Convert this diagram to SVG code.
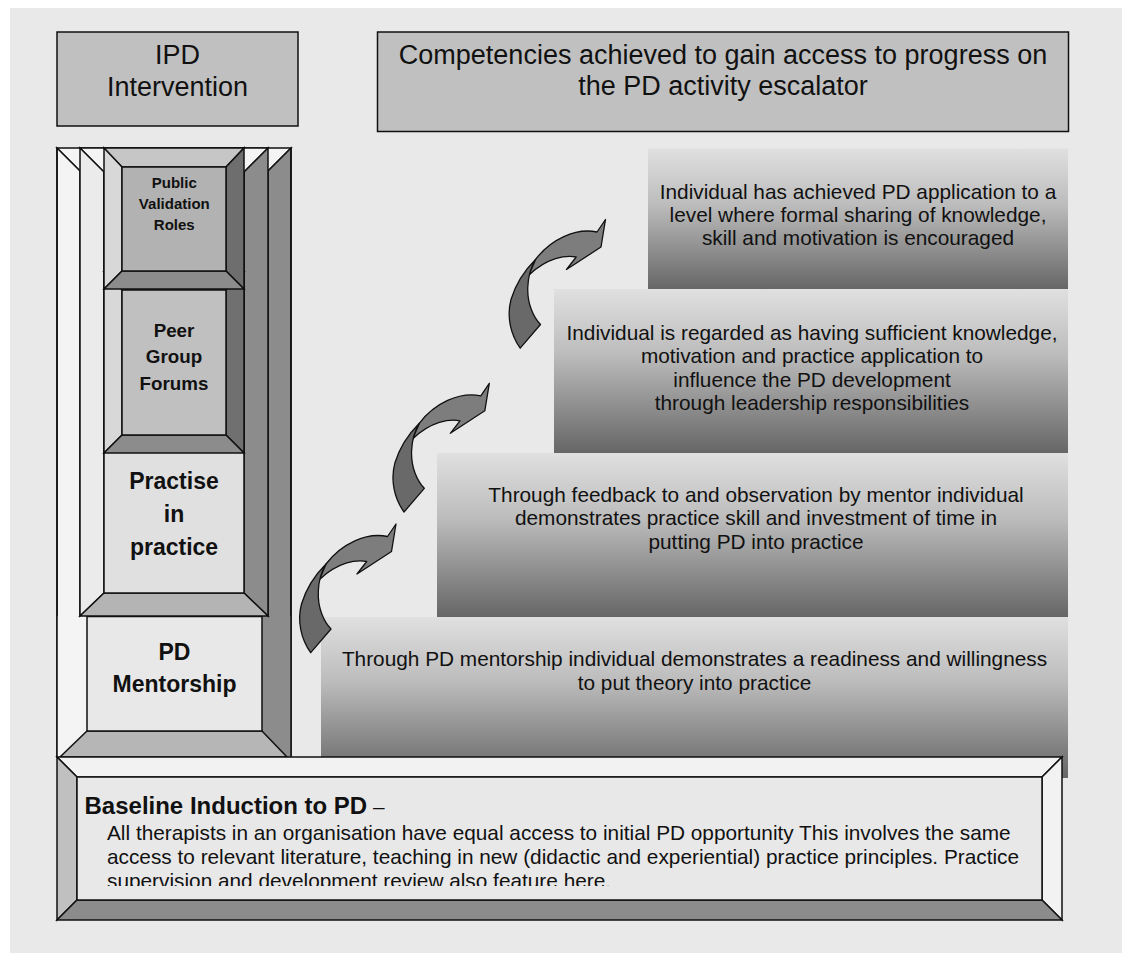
<svg xmlns="http://www.w3.org/2000/svg" xmlns:xlink="http://www.w3.org/1999/xlink" width="1132" height="960" viewBox="0 0 1132 960">
  <style>
    text { font-family: "Liberation Sans", Arial, sans-serif; fill: #111; }
    .hdr { font-size: 27px; text-anchor: middle; }
    .step { font-size: 20.8px; text-anchor: middle; }
    .lbl { font-weight: bold; text-anchor: middle; }
    .edge { stroke: #111; stroke-width: 1.5; stroke-linejoin: miter; }
    .nos { stroke: none; }
    .arrow-head { fill: #7d7d7d; stroke: #111; stroke-width: 1.3; stroke-linejoin: round; }
    .arrow-tail { fill: #696969; stroke: #111; stroke-width: 1.3; stroke-linejoin: round; }
  </style>
  <defs>
    <linearGradient id="stepFill" x1="0" y1="0" x2="0" y2="1">
      <stop offset="0" stop-color="#e0e0e0"/>
      <stop offset="0.4" stop-color="#bcbcbc"/>
      <stop offset="1" stop-color="#666666"/>
    </linearGradient>
    <clipPath id="baseClip">
      <rect x="77" y="777" width="965" height="109"/>
    </clipPath>
    <!-- curved block arrow, tip at the origin -->
    <g id="curvedArrow">
      <path class="arrow-head" d="M0,0 L-4.5,27.5 L-39,50 L-29.3,37.5 C-40,35.5 -58,38 -76.5,55.5 L-70,40 C-55,20 -30,8 -8.5,12.5 Z"/>
      <path class="arrow-tail" d="M-70,40 C-80,50 -90,65 -94.5,80 C-99,97 -95,115 -85.3,128.7 L-65,105 C-72,98 -78.5,84 -77.7,67.3 C-77.3,58 -75,48 -70,40 Z"/>
    </g>
  </defs>

  <!-- page panel -->
  <rect x="10" y="8" width="1112" height="945" fill="#e9e9e9"/>

  <!-- column heading -->
  <g id="ipd-header">
    <rect x="57" y="32" width="241" height="94" fill="#c0c0c0" class="edge"/>
    <text class="hdr" x="177.5" y="64">IPD</text>
    <text class="hdr" x="177.5" y="96">Intervention</text>
  </g>

  <!-- escalator heading -->
  <g id="competencies-header">
    <rect x="377.5" y="32" width="691" height="99.5" fill="#c0c0c0" class="edge"/>
    <text class="hdr" x="723" y="64">Competencies achieved to gain access to progress on</text>
    <text class="hdr" x="723" y="95">the PD activity escalator</text>
  </g>

  <!-- escalator steps -->
  <g id="step-4">
    <rect x="648" y="148.5" width="420" height="141" fill="url(#stepFill)"/>
    <text class="step" x="858" y="199">Individual has achieved PD application to a</text>
    <text class="step" x="858" y="222">level where formal sharing of knowledge,</text>
    <text class="step" x="858" y="245">skill and motivation is encouraged</text>
  </g>
  <g id="step-3">
    <rect x="554" y="289" width="514" height="164" fill="url(#stepFill)"/>
    <text class="step" x="812" y="340">Individual is regarded as having sufficient knowledge,</text>
    <text class="step" x="812" y="363.3">motivation and practice application to</text>
    <text class="step" x="812" y="386.7">influence the PD development</text>
    <text class="step" x="812" y="410">through leadership responsibilities</text>
  </g>
  <g id="step-2">
    <rect x="437" y="453" width="631" height="164" fill="url(#stepFill)"/>
    <text class="step" x="756" y="502">Through feedback to and observation by mentor individual</text>
    <text class="step" x="756" y="525.3">demonstrates practice skill and investment of time in</text>
    <text class="step" x="756" y="548.6">putting PD into practice</text>
  </g>
  <g id="step-1">
    <rect x="321" y="617" width="747" height="161" fill="url(#stepFill)"/>
    <text class="step" x="694.5" y="666">Through PD mentorship individual demonstrates a readiness and willingness</text>
    <text class="step" x="694.5" y="690">to put theory into practice</text>
  </g>

  <!-- IPD column: outer frame -->
  <g id="column-frame">
    <polygon class="edge" fill="#f4f4f4" points="57,148 291,148 268,171 80,171"/>
    <polygon class="edge" fill="#f4f4f4" points="57,148 80,171 80,757 57,757"/>
    <polygon class="edge" fill="#8c8c8c" points="291,148 291,757 268,757 268,171"/>
  </g>

  <!-- PD Mentorship -->
  <g id="pd-mentorship">
    <polygon class="nos" fill="#f4f4f4" points="57,616 87,616 87,731 60,757 57,757"/>
    <polygon class="nos" fill="#8c8c8c" points="262,616 291,616 291,757 287,757 262,731"/>
    <polygon class="edge" fill="#b6b6b6" points="60,757 287,757 262,731 87,731"/>
    <rect class="edge" x="87" y="616.5" width="175" height="114.5" fill="#e8e8e8"/>
    <text class="lbl" x="174.5" y="660" font-size="23">PD</text>
    <text class="lbl" x="174.5" y="691.5" font-size="23">Mentorship</text>
  </g>

  <!-- Practise in practice -->
  <g id="practise-in-practice">
    <polygon class="edge" fill="#f4f4f4" points="80,148 268,148 244,172 104,172"/>
    <polygon class="edge" fill="#ebebeb" points="80,148 104,172 104,593 80,616"/>
    <polygon class="edge" fill="#8c8c8c" points="268,148 268,616 244,593 244,172"/>
    <polygon class="edge" fill="#b4b4b4" points="80,616 268,616 244,593 104,593"/>
    <rect class="edge" x="104" y="172" width="140" height="421" fill="#e0e0e0"/>
    <text class="lbl" x="174" y="489.3" font-size="23">Practise</text>
    <text class="lbl" x="174" y="522.3" font-size="23">in</text>
    <text class="lbl" x="174" y="555.3" font-size="23">practice</text>
  </g>

  <!-- Peer Group Forums -->
  <g id="peer-group-forums">
    <polygon class="edge" fill="#c8c8c8" points="104,272 244,272 226,290 122,290"/>
    <polygon class="edge" fill="#d8d8d8" points="104,272 122,290 122,435 104,453"/>
    <polygon class="edge" fill="#707070" points="244,272 244,453 226,435 226,290"/>
    <polygon class="edge" fill="#8c8c8c" points="104,453 244,453 226,435 122,435"/>
    <rect class="edge" x="122" y="290" width="104" height="145" fill="#c0c0c0"/>
    <text class="lbl" x="174" y="337.3" font-size="18.8">Peer</text>
    <text class="lbl" x="174" y="363" font-size="18.8">Group</text>
    <text class="lbl" x="174" y="390" font-size="18.8">Forums</text>
  </g>

  <!-- Public Validation Roles -->
  <g id="public-validation-roles">
    <polygon class="edge" fill="#c6c6c6" points="104,148 244,148 226,167 122,167"/>
    <polygon class="edge" fill="#d8d8d8" points="104,148 122,167 122,271 104,289"/>
    <polygon class="edge" fill="#6e6e6e" points="244,148 244,289 226,271 226,167"/>
    <polygon class="edge" fill="#8c8c8c" points="104,289 244,289 226,271 122,271"/>
    <rect class="edge" x="122" y="167" width="104" height="104" fill="#b2b2b2"/>
    <text class="lbl" x="174.3" y="188" font-size="15">Public</text>
    <text class="lbl" x="174.3" y="209" font-size="15">Validation</text>
    <text class="lbl" x="174.3" y="230" font-size="15">Roles</text>
  </g>

  <!-- outer edges of the column -->
  <g id="column-outline" fill="none" class="edge">
    <line class="edge" x1="57" y1="148" x2="57" y2="757"/>
    <line class="edge" x1="291" y1="148" x2="291" y2="757"/>
  </g>

  <!-- progression arrows -->
  <g id="connectors">
    <use xlink:href="#curvedArrow" href="#curvedArrow" transform="translate(605.5,219.5)"/>
    <use xlink:href="#curvedArrow" href="#curvedArrow" transform="translate(489.3,383.3)"/>
    <use xlink:href="#curvedArrow" href="#curvedArrow" transform="translate(396,524)"/>
  </g>

  <!-- baseline induction -->
  <g id="baseline-induction">
    <polygon class="edge" fill="#f2f2f2" points="57,757 1062,757 1042,777 77,777"/>
    <polygon class="edge" fill="#c0c0c0" points="57,757 77,777 77,900 57,920"/>
    <polygon class="edge" fill="#f2f2f2" points="1062,757 1062,920 1042,900 1042,777"/>
    <polygon class="edge" fill="#8c8c8c" points="57,920 1062,920 1042,900 77,900"/>
    <rect class="edge" x="77" y="777" width="965" height="123" fill="#e8e8e8"/>
    <text x="84.5" y="814" font-size="24" font-weight="bold">Baseline Induction to PD<tspan font-weight="normal" font-size="20.8"> –</tspan></text>
    <g clip-path="url(#baseClip)" font-size="20.8">
      <text x="107" y="840">All therapists in an organisation have equal access to initial PD opportunity This involves the same</text>
      <text x="107" y="864">access to relevant literature, teaching in new (didactic and experiential) practice principles. Practice</text>
      <text x="107" y="888">supervision and development review also feature here.</text>
    </g>
  </g>
</svg>
